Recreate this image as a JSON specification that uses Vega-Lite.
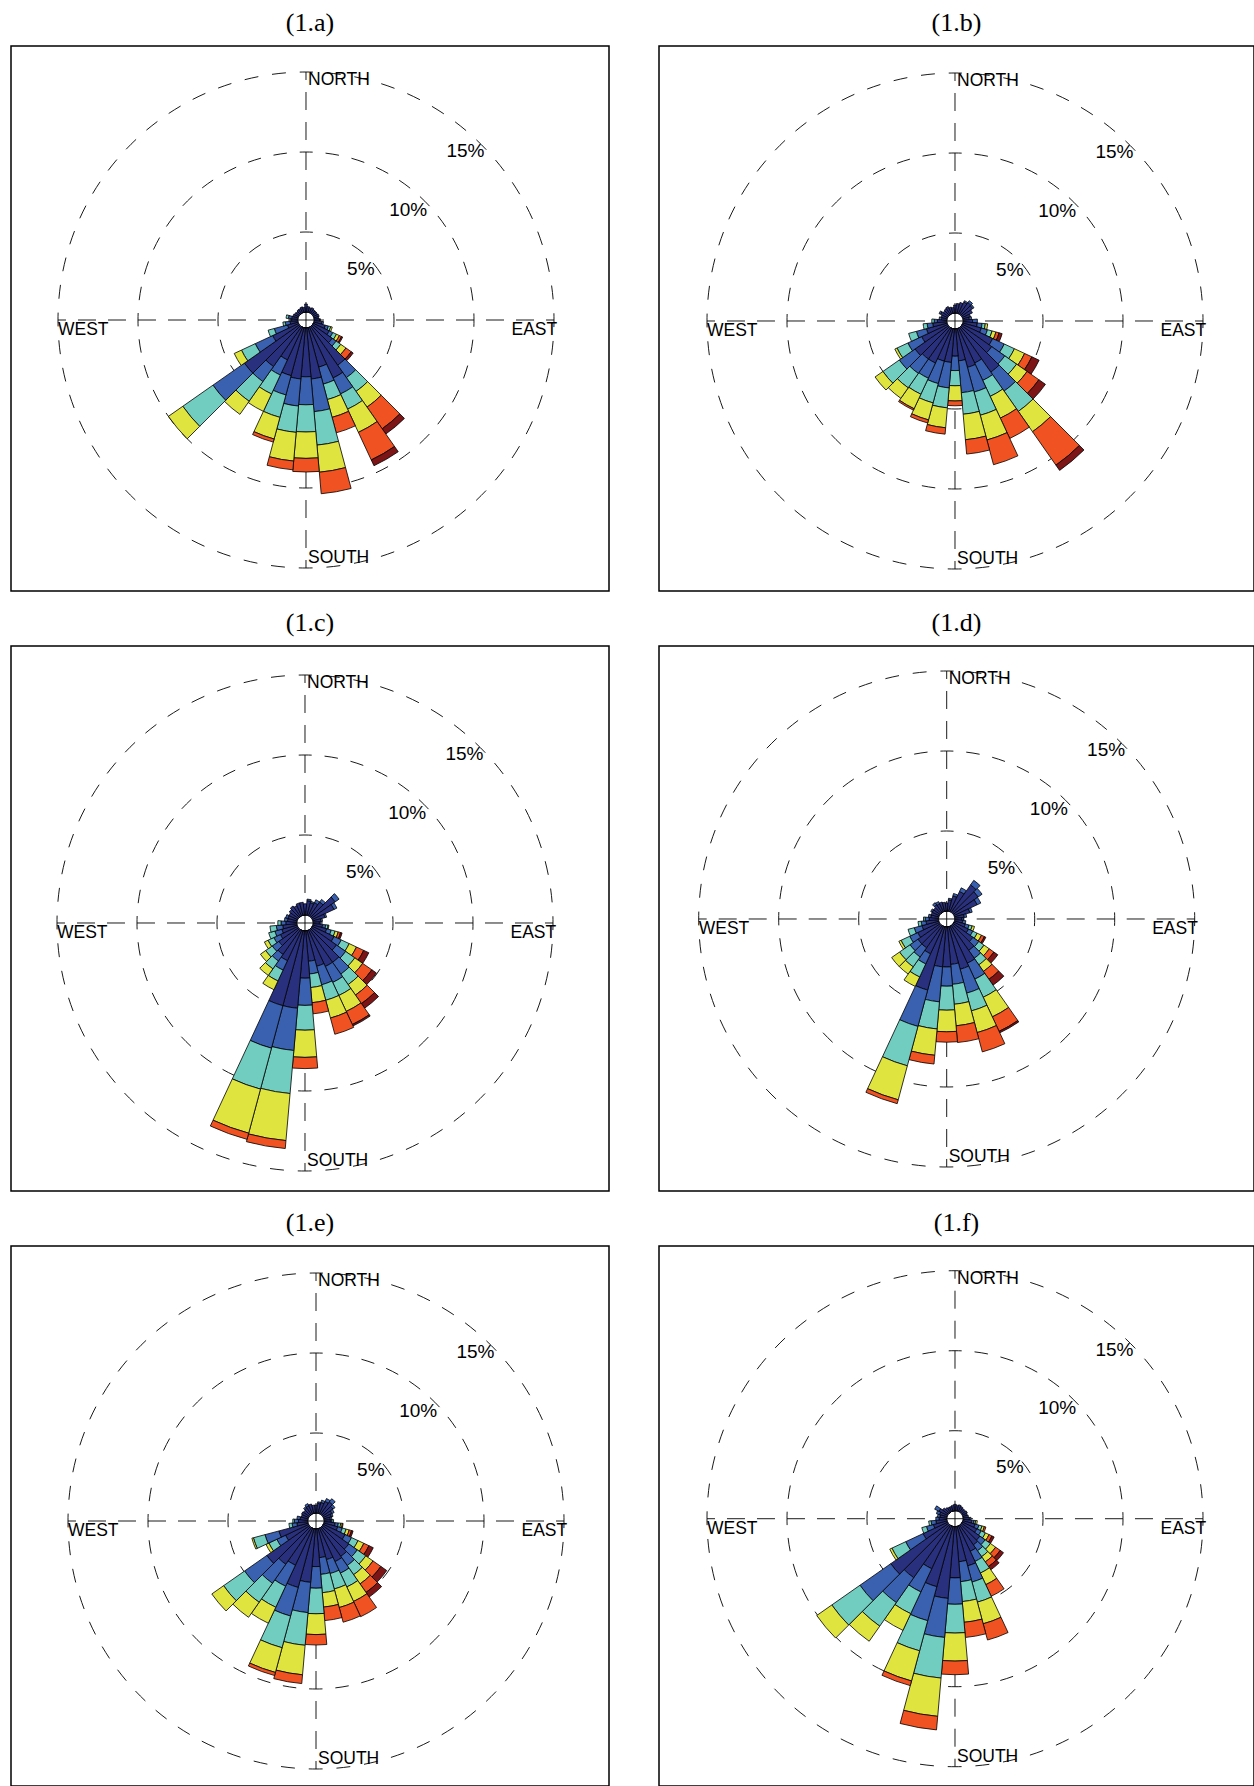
{
"$schema": "https://vega.github.io/schema/vega-lite/v6.json",
"background": "white",
"padding": {"left": 10, "top": 9, "right": 0, "bottom": 0},
"config": {"view": {"stroke": "black", "strokeWidth": 1.5}, "title": {"font": "Liberation Serif", "fontSize": 26, "fontWeight": "normal", "color": "black", "anchor": "middle", "offset": 10}},
"datasets": {
"rings": [{"ring": 5}, {"ring": 10}, {"ring": 15}],
"cross": [{"x1": 0, "y1": 0, "x2": -15, "y2": 0}, {"x1": 0, "y1": 0, "x2": 15, "y2": 0}, {"x1": 0, "y1": 0, "x2": 0, "y2": -15}, {"x1": 0, "y1": 0, "x2": 0, "y2": 15}],
"hole": [{"h": 0}],
"pct": [{"t": "5%", "a": 46.8, "r": 4.2}, {"t": "10%", "a": 42.8, "r": 8.9}, {"t": "15%", "a": 43.4, "r": 14.0}],
"ns": [{"t": "NORTH", "a": 0, "r": 14.5}, {"t": "SOUTH", "a": 180, "r": 14.4}],
"wl": [{"t": "WEST", "a": 270, "r": 15}],
"el": [{"t": "EAST", "a": 90, "r": 15.2}],
"rose": [
{"p":"a","d":0,"c1":0.5},{"p":"a","d":10,"c1":0.35},{"p":"a","d":20,"c1":0.3},{"p":"a","d":30,"c1":0.35},{"p":"a","d":40,"c1":0.3},{"p":"a","d":50,"c1":0.3},{"p":"a","d":60,"c1":0.3},{"p":"a","d":70,"c1":0.35},{"p":"a","d":80,"c1":0.3},
{"p":"a","d":90,"c1":0.35,"c2":0.05},{"p":"a","d":100,"c1":0.5,"c2":0.1},{"p":"a","d":110,"c1":0.75,"c2":0.2,"c3":0.15,"c4":0.1},
{"p":"a","d":120,"c1":1.1,"c2":0.25,"c3":0.25,"c4":0.2,"c5":0.15,"c6":0.08},
{"p":"a","d":130,"c1":1.5,"c2":0.3,"c3":0.35,"c4":0.4,"c5":0.4,"c6":0.15},
{"p":"a","d":140,"c1":2.95,"c2":0.95,"c3":1.05,"c4":1.2,"c5":1.65,"c6":0.4},
{"p":"a","d":150,"c1":3.5,"c2":1.1,"c3":1.05,"c4":1.6,"c5":1.9,"c6":0.4},
{"p":"a","d":160,"c1":2.55,"c2":1.1,"c3":1.0,"c4":1.15,"c5":1.0},
{"p":"a","d":170,"c1":3.2,"c2":2.05,"c3":2.1,"c4":1.7,"c5":1.35},
{"p":"a","d":180,"c1":3.05,"c2":1.75,"c3":1.7,"c4":1.65,"c5":0.85},
{"p":"a","d":190,"c1":3.2,"c2":1.7,"c3":1.65,"c4":1.8,"c5":0.55},
{"p":"a","d":200,"c1":3.1,"c2":1.25,"c3":1.45,"c4":1.4,"c5":0.2},
{"p":"a","d":210,"c1":2.25,"c2":1.05,"c3":1.3,"c4":1.2},
{"p":"a","d":220,"c1":3.05,"c2":1.15,"c3":1.5,"c4":1.0},
{"p":"a","d":230,"c1":4.2,"c2":2.4,"c3":2.3,"c4":1.1},
{"p":"a","d":240,"c1":1.8,"c2":1.2,"c3":0.95,"c4":0.5},
{"p":"a","d":250,"c1":0.7,"c2":0.85,"c3":0.4},
{"p":"a","d":260,"c1":0.5,"c2":0.3,"c3":0.15},{"p":"a","d":270,"c1":0.4,"c2":0.1},{"p":"a","d":280,"c1":0.4,"c2":0.2,"c3":0.15},
{"p":"a","d":290,"c1":0.35},{"p":"a","d":300,"c1":0.3},{"p":"a","d":310,"c1":0.25},{"p":"a","d":320,"c1":0.3},{"p":"a","d":330,"c1":0.3},{"p":"a","d":340,"c1":0.35},{"p":"a","d":350,"c1":0.3},

{"p":"b","d":0,"c1":0.5},{"p":"b","d":10,"c1":0.6},{"p":"b","d":20,"c1":0.7},{"p":"b","d":30,"c1":0.8,"c2":0.1},{"p":"b","d":40,"c1":0.9,"c2":0.15},{"p":"b","d":50,"c1":0.85,"c2":0.1},{"p":"b","d":60,"c1":0.7},{"p":"b","d":70,"c1":0.5},
{"p":"b","d":80,"c1":0.4,"c2":0.15},{"p":"b","d":90,"c1":0.6,"c2":0.3},{"p":"b","d":100,"c1":0.9,"c2":0.3,"c3":0.2,"c4":0.15},
{"p":"b","d":110,"c1":1.2,"c2":0.4,"c3":0.3,"c4":0.25,"c5":0.2,"c6":0.2},
{"p":"b","d":120,"c1":2.1,"c2":0.8,"c3":0.7,"c4":0.7,"c5":0.5,"c6":0.5},
{"p":"b","d":130,"c1":2.3,"c2":1.0,"c3":0.9,"c4":0.8,"c5":0.9,"c6":0.5},
{"p":"b","d":140,"c1":3.4,"c2":1.45,"c3":1.55,"c4":1.55,"c5":2.55,"c6":0.4},
{"p":"b","d":150,"c1":2.4,"c2":1.2,"c3":1.1,"c4":1.5,"c5":1.4},
{"p":"b","d":160,"c1":2.5,"c2":1.6,"c3":1.5,"c4":1.6,"c5":1.6},
{"p":"b","d":170,"c1":2.0,"c2":2.0,"c3":1.35,"c4":1.6,"c5":0.9},
{"p":"b","d":180,"c1":1.7,"c2":0.9,"c3":0.95,"c4":0.95,"c5":0.3},
{"p":"b","d":190,"c1":2.1,"c2":1.6,"c3":1.25,"c4":1.25,"c5":0.4},
{"p":"b","d":200,"c1":2.1,"c2":1.45,"c3":1.25,"c4":1.1,"c5":0.2},
{"p":"b","d":210,"c1":2.4,"c2":1.05,"c3":1.1,"c4":1.0,"c5":0.1},
{"p":"b","d":220,"c1":2.4,"c2":1.1,"c3":1.1,"c4":0.8},
{"p":"b","d":230,"c1":2.55,"c2":1.2,"c3":1.25,"c4":0.6},
{"p":"b","d":240,"c1":1.8,"c2":0.95,"c3":0.75,"c4":0.15},
{"p":"b","d":250,"c1":1.35,"c2":0.65,"c3":0.5},
{"p":"b","d":260,"c1":0.9,"c2":0.35,"c3":0.25},{"p":"b","d":270,"c1":0.6,"c2":0.2,"c3":0.15},{"p":"b","d":280,"c1":0.35,"c2":0.15},
{"p":"b","d":290,"c1":0.4},{"p":"b","d":300,"c1":0.5,"c2":0.1},{"p":"b","d":310,"c1":0.4},{"p":"b","d":320,"c1":0.45},{"p":"b","d":330,"c1":0.5},{"p":"b","d":340,"c1":0.4},{"p":"b","d":350,"c1":0.35},

{"p":"c","d":0,"c1":0.7},{"p":"c","d":10,"c1":0.9,"c2":0.1},{"p":"c","d":20,"c1":0.8,"c2":0.1},{"p":"c","d":30,"c1":0.9,"c2":0.2},{"p":"c","d":40,"c1":1.1,"c2":0.2},{"p":"c","d":50,"c1":1.8,"c2":0.3},{"p":"c","d":60,"c1":1.5,"c2":0.2},{"p":"c","d":70,"c1":0.8,"c2":0.1},
{"p":"c","d":80,"c1":0.5,"c2":0.1},{"p":"c","d":90,"c1":0.4,"c2":0.1},{"p":"c","d":100,"c1":0.6,"c2":0.2,"c3":0.15,"c4":0.05},
{"p":"c","d":110,"c1":0.9,"c2":0.3,"c3":0.25,"c4":0.2,"c5":0.15,"c6":0.1},
{"p":"c","d":120,"c1":1.5,"c2":0.5,"c3":0.55,"c4":0.5,"c5":0.5,"c6":0.35},
{"p":"c","d":130,"c1":1.9,"c2":0.7,"c3":0.7,"c4":0.6,"c5":0.7,"c6":0.35},
{"p":"c","d":140,"c1":2.5,"c2":0.9,"c3":0.8,"c4":0.8,"c5":0.65,"c6":0.35},
{"p":"c","d":150,"c1":2.5,"c2":1.1,"c3":0.9,"c4":1.1,"c5":0.9,"c6":0.1},
{"p":"c","d":160,"c1":2.3,"c2":1.2,"c3":1.0,"c4":1.15,"c5":1.05},
{"p":"c","d":170,"c1":1.9,"c2":0.8,"c3":0.85,"c4":0.95,"c5":0.7},
{"p":"c","d":180,"c1":2.95,"c2":1.7,"c3":1.55,"c4":1.7,"c5":0.7},
{"p":"c","d":190,"c1":4.85,"c2":2.65,"c3":2.7,"c4":2.95,"c5":0.5},
{"p":"c","d":200,"c1":4.85,"c2":2.75,"c3":2.65,"c4":2.85,"c5":0.4},
{"p":"c","d":210,"c1":2.1,"c2":0.65,"c3":0.75,"c4":0.6},
{"p":"c","d":220,"c1":1.9,"c2":0.5,"c3":0.6,"c4":0.5},
{"p":"c","d":230,"c1":1.5,"c2":0.5,"c3":0.5,"c4":0.4},
{"p":"c","d":240,"c1":1.2,"c2":0.45,"c3":0.4,"c4":0.25},
{"p":"c","d":250,"c1":1.0,"c2":0.45,"c3":0.4},
{"p":"c","d":260,"c1":0.9,"c2":0.4,"c3":0.4},{"p":"c","d":270,"c1":0.7,"c2":0.3,"c3":0.2},{"p":"c","d":280,"c1":0.6,"c2":0.2},
{"p":"c","d":290,"c1":0.6,"c2":0.15},{"p":"c","d":300,"c1":0.6},{"p":"c","d":310,"c1":0.7},{"p":"c","d":320,"c1":0.8},{"p":"c","d":330,"c1":0.7},{"p":"c","d":340,"c1":0.8},{"p":"c","d":350,"c1":0.8},

{"p":"d","d":0,"c1":0.5},{"p":"d","d":10,"c1":0.7,"c2":0.1},{"p":"d","d":20,"c1":1.0,"c2":0.15},{"p":"d","d":30,"c1":1.4,"c2":0.25},{"p":"d","d":40,"c1":2.1,"c2":0.35},{"p":"d","d":50,"c1":1.9,"c2":0.3},{"p":"d","d":60,"c1":1.6,"c2":0.25},{"p":"d","d":70,"c1":1.0,"c2":0.15},
{"p":"d","d":80,"c1":0.6,"c2":0.15},{"p":"d","d":90,"c1":0.45,"c2":0.1},{"p":"d","d":100,"c1":0.5,"c2":0.2},
{"p":"d","d":110,"c1":0.7,"c2":0.25,"c3":0.2,"c4":0.15},
{"p":"d","d":120,"c1":1.0,"c2":0.3,"c3":0.3,"c4":0.3,"c5":0.2,"c6":0.1},
{"p":"d","d":130,"c1":1.5,"c2":0.45,"c3":0.4,"c4":0.4,"c5":0.35,"c6":0.3},
{"p":"d","d":140,"c1":1.9,"c2":0.6,"c3":0.5,"c4":0.5,"c5":0.6,"c6":0.45},
{"p":"d","d":150,"c1":2.55,"c2":1.1,"c3":1.25,"c4":1.35,"c5":1.0,"c6":0.1},
{"p":"d","d":160,"c1":2.75,"c2":1.55,"c3":1.15,"c4":1.4,"c5":1.25},
{"p":"d","d":170,"c1":2.35,"c2":1.25,"c3":1.25,"c4":1.35,"c5":1.05},
{"p":"d","d":180,"c1":2.5,"c2":1.2,"c3":1.5,"c4":1.35,"c5":0.65},
{"p":"d","d":190,"c1":2.5,"c2":2.2,"c3":1.7,"c4":1.65,"c5":0.55},
{"p":"d","d":200,"c1":4.1,"c2":2.35,"c3":2.55,"c4":2.2,"c5":0.25},
{"p":"d","d":210,"c1":1.9,"c2":0.7,"c3":0.9,"c4":0.65},
{"p":"d","d":220,"c1":1.7,"c2":0.7,"c3":0.75,"c4":0.55},
{"p":"d","d":230,"c1":1.7,"c2":0.6,"c3":0.8,"c4":0.6},
{"p":"d","d":240,"c1":1.5,"c2":0.55,"c3":0.6,"c4":0.15},
{"p":"d","d":250,"c1":1.1,"c2":0.5,"c3":0.4},
{"p":"d","d":260,"c1":0.8,"c2":0.3,"c3":0.2},{"p":"d","d":270,"c1":0.6,"c2":0.25,"c3":0.1},{"p":"d","d":280,"c1":0.5,"c2":0.15},
{"p":"d","d":290,"c1":0.5},{"p":"d","d":300,"c1":0.5,"c2":0.1},{"p":"d","d":310,"c1":0.5},{"p":"d","d":320,"c1":0.6,"c2":0.15},{"p":"d","d":330,"c1":0.55,"c2":0.15},{"p":"d","d":340,"c1":0.6},{"p":"d","d":350,"c1":0.55},

{"p":"e","d":0,"c1":0.5},{"p":"e","d":10,"c1":0.6,"c2":0.1},{"p":"e","d":20,"c1":0.7,"c2":0.15},{"p":"e","d":30,"c1":0.85,"c2":0.2},{"p":"e","d":40,"c1":0.95,"c2":0.25},{"p":"e","d":50,"c1":0.8,"c2":0.15},{"p":"e","d":60,"c1":0.6,"c2":0.15},{"p":"e","d":70,"c1":0.5,"c2":0.1},
{"p":"e","d":80,"c1":0.4,"c2":0.1},{"p":"e","d":90,"c1":0.4,"c2":0.1,"c3":0.1},{"p":"e","d":100,"c1":0.7,"c2":0.2,"c3":0.15,"c4":0.1,"c5":0.05},
{"p":"e","d":110,"c1":0.9,"c2":0.3,"c3":0.25,"c4":0.2,"c5":0.15,"c6":0.1},
{"p":"e","d":120,"c1":1.5,"c2":0.45,"c3":0.45,"c4":0.4,"c5":0.35,"c6":0.3},
{"p":"e","d":130,"c1":2.0,"c2":0.65,"c3":0.65,"c4":0.55,"c5":0.6,"c6":0.45},
{"p":"e","d":140,"c1":2.2,"c2":0.7,"c3":0.7,"c4":0.7,"c5":0.65,"c6":0.35},
{"p":"e","d":150,"c1":2.3,"c2":0.8,"c3":0.95,"c4":1.0,"c5":1.05},
{"p":"e","d":160,"c1":2.0,"c2":0.9,"c3":1.0,"c4":1.2,"c5":0.95},
{"p":"e","d":170,"c1":1.8,"c2":1.05,"c3":1.15,"c4":0.9,"c5":0.85},
{"p":"e","d":180,"c1":2.35,"c2":1.35,"c3":1.6,"c4":1.3,"c5":0.65},
{"p":"e","d":190,"c1":3.35,"c2":1.9,"c3":2.05,"c4":1.85,"c5":0.55},
{"p":"e","d":200,"c1":3.8,"c2":1.85,"c3":2.05,"c4":1.6,"c5":0.2},
{"p":"e","d":210,"c1":2.55,"c2":1.45,"c3":1.45,"c4":1.1},
{"p":"e","d":220,"c1":2.8,"c2":1.45,"c3":1.45,"c4":1.15},
{"p":"e","d":230,"c1":3.25,"c2":1.7,"c3":1.6,"c4":0.9},
{"p":"e","d":240,"c1":1.6,"c2":0.6,"c3":0.55,"c4":0.2},
{"p":"e","d":250,"c1":1.9,"c2":0.9,"c3":0.75,"c4":0.1},
{"p":"e","d":260,"c1":0.7,"c2":0.3,"c3":0.2},{"p":"e","d":270,"c1":0.6,"c2":0.25,"c3":0.1},{"p":"e","d":280,"c1":0.5,"c2":0.2},
{"p":"e","d":290,"c1":0.45},{"p":"e","d":300,"c1":0.5},{"p":"e","d":310,"c1":0.45},{"p":"e","d":320,"c1":0.5,"c2":0.1},{"p":"e","d":330,"c1":0.55,"c2":0.15},{"p":"e","d":340,"c1":0.6},{"p":"e","d":350,"c1":0.5},

{"p":"f","d":0,"c1":0.4},{"p":"f","d":10,"c1":0.35},{"p":"f","d":20,"c1":0.4},{"p":"f","d":30,"c1":0.35},{"p":"f","d":40,"c1":0.3},{"p":"f","d":50,"c1":0.3},{"p":"f","d":60,"c1":0.35},{"p":"f","d":70,"c1":0.3},
{"p":"f","d":80,"c1":0.35},{"p":"f","d":90,"c1":0.4,"c2":0.1},{"p":"f","d":100,"c1":0.55,"c2":0.15,"c3":0.1,"c4":0.1},
{"p":"f","d":110,"c1":0.8,"c2":0.25,"c3":0.2,"c4":0.15,"c5":0.1},
{"p":"f","d":120,"c1":1.0,"c2":0.3,"c3":0.3,"c4":0.25,"c5":0.2,"c6":0.15},
{"p":"f","d":130,"c1":1.4,"c2":0.4,"c3":0.4,"c4":0.4,"c5":0.35,"c6":0.25},
{"p":"f","d":140,"c1":1.5,"c2":0.45,"c3":0.45,"c4":0.4,"c5":0.35,"c6":0.25},
{"p":"f","d":150,"c1":1.75,"c2":0.7,"c3":0.8,"c4":0.8,"c5":0.8},
{"p":"f","d":160,"c1":2.55,"c2":1.05,"c3":1.3,"c4":1.4,"c5":1.05},
{"p":"f","d":170,"c1":2.2,"c2":1.25,"c3":1.25,"c4":1.3,"c5":0.95},
{"p":"f","d":180,"c1":3.2,"c2":1.65,"c3":1.8,"c4":1.75,"c5":0.85},
{"p":"f","d":190,"c1":4.5,"c2":2.45,"c3":2.55,"c4":2.4,"c5":0.85},
{"p":"f","d":200,"c1":3.9,"c2":2.2,"c3":1.95,"c4":1.95,"c5":0.3},
{"p":"f","d":210,"c1":2.95,"c2":1.6,"c3":1.5,"c4":1.15},
{"p":"f","d":220,"c1":4.0,"c2":1.9,"c3":1.8,"c4":1.15},
{"p":"f","d":230,"c1":4.4,"c2":2.35,"c3":2.15,"c4":1.15},
{"p":"f","d":240,"c1":1.7,"c2":1.2,"c3":0.95,"c4":0.15},
{"p":"f","d":250,"c1":0.9,"c2":0.45,"c3":0.3},
{"p":"f","d":260,"c1":0.7,"c2":0.3,"c3":0.15},{"p":"f","d":270,"c1":0.5,"c2":0.2},{"p":"f","d":280,"c1":0.45,"c2":0.15},
{"p":"f","d":290,"c1":0.5,"c2":0.2},{"p":"f","d":300,"c1":0.6,"c2":0.3},{"p":"f","d":310,"c1":0.45},{"p":"f","d":320,"c1":0.35},{"p":"f","d":330,"c1":0.3},{"p":"f","d":340,"c1":0.3},{"p":"f","d":350,"c1":0.35}
]
},
"vconcat": [
{"hconcat": [
{"title": "(1.a)", "width": 598, "height": 545, "resolve": {"scale": {"theta": "independent"}},
 "encoding": {"x": {"datum": 0, "type": "quantitative", "scale": {"domain": [-17.843, 18.327], "nice": false, "zero": false}, "axis": null}, "y": {"datum": 0, "type": "quantitative", "scale": {"domain": [-16.391, 16.573], "nice": false, "zero": false}, "axis": null}},
 "layer": [
  {"data": {"name": "rings"}, "transform": [{"filter": "datum.ring == 5"}], "mark": {"type": "arc", "theta": 0, "theta2": 6.2832, "fill": "transparent", "stroke": "black", "strokeWidth": 0.9, "strokeDash": [14, 13.646], "strokeDashOffset": 7},
   "encoding": {"radius": {"field": "ring", "type": "quantitative", "stack": null, "scale": {"domain": [0, 15], "range": [8, 248], "zero": false, "nice": false}}}},
  {"data": {"name": "rings"}, "transform": [{"filter": "datum.ring == 10"}], "mark": {"type": "arc", "theta": 0, "theta2": 6.2832, "fill": "transparent", "stroke": "black", "strokeWidth": 0.9, "strokeDash": [13.5, 12.889], "strokeDashOffset": 6.75},
   "encoding": {"radius": {"field": "ring", "type": "quantitative", "stack": null, "scale": {"domain": [0, 15], "range": [8, 248], "zero": false, "nice": false}}}},
  {"data": {"name": "rings"}, "transform": [{"filter": "datum.ring == 15"}], "mark": {"type": "arc", "theta": 0, "theta2": 6.2832, "fill": "transparent", "stroke": "black", "strokeWidth": 0.9, "strokeDash": [14, 13.826], "strokeDashOffset": 7},
   "encoding": {"radius": {"field": "ring", "type": "quantitative", "stack": null, "scale": {"domain": [0, 15], "range": [8, 248], "zero": false, "nice": false}}}},
  {"data": {"name": "cross"}, "mark": {"type": "rule", "color": "black", "strokeWidth": 0.9, "strokeDash": [18, 12]},
   "encoding": {"x": {"field": "x1", "type": "quantitative", "scale": {"domain": [-17.843, 18.327], "nice": false, "zero": false}, "axis": null}, "x2": {"field": "x2"},
    "y": {"field": "y1", "type": "quantitative", "scale": {"domain": [-16.391, 16.573], "nice": false, "zero": false}, "axis": null}, "y2": {"field": "y2"}}},
  {"data": {"name": "hole"}, "mark": {"type": "arc", "theta": 0, "theta2": 6.2832, "fill": "white", "strokeWidth": 0},
   "encoding": {"radius": {"field": "h", "type": "quantitative", "stack": null, "scale": {"domain": [0, 15], "range": [8, 248], "zero": false, "nice": false}}}},
  {"data": {"name": "rose"}, "transform": [{"filter": "datum.p == 'a'"}, {"fold": ["c1", "c2", "c3", "c4", "c5", "c6"], "as": ["cls", "v"]}, {"filter": "datum.v > 0"}, {"stack": "v", "groupby": ["d"], "sort": [{"field": "cls", "order": "ascending"}], "as": ["r0", "r1"]}],
   "mark": {"type": "arc", "stroke": "black", "strokeWidth": 0.8},
   "encoding": {"theta": {"field": "d", "type": "ordinal", "scale": {"type": "band", "domain": [0,10,20,30,40,50,60,70,80,90,100,110,120,130,140,150,160,170,180,190,200,210,220,230,240,250,260,270,280,290,300,310,320,330,340,350], "range": [-0.08727, 6.19592], "paddingInner": 0, "paddingOuter": 0}},
    "radius": {"field": "r1", "type": "quantitative", "stack": null, "scale": {"domain": [0, 15], "range": [8, 248], "zero": false, "nice": false}}, "radius2": {"field": "r0"},
    "color": {"field": "cls", "type": "nominal", "scale": {"domain": ["c1", "c2", "c3", "c4", "c5", "c6"], "range": ["#29307e", "#3a60b0", "#71cdc0", "#e0e43e", "#f05222", "#7d1416"]}, "legend": null}}},
  {"data": {"name": "pct"}, "mark": {"type": "text", "font": "Liberation Sans", "fontSize": 19, "align": "center", "baseline": "middle", "color": "black"},
   "encoding": {"theta": {"field": "a", "type": "quantitative", "stack": null, "scale": {"domain": [0, 360], "range": [0, 6.28319]}}, "radius": {"field": "r", "type": "quantitative", "stack": null, "scale": {"domain": [0, 15], "range": [8, 248], "zero": false, "nice": false}}, "text": {"field": "t"}}},
  {"data": {"name": "ns"}, "mark": {"type": "text", "font": "Liberation Sans", "fontSize": 17.5, "align": "left", "baseline": "middle", "dx": 2, "color": "black"},
   "encoding": {"theta": {"field": "a", "type": "quantitative", "stack": null, "scale": {"domain": [0, 360], "range": [0, 6.28319]}}, "radius": {"field": "r", "type": "quantitative", "stack": null, "scale": {"domain": [0, 15], "range": [8, 248], "zero": false, "nice": false}}, "text": {"field": "t"}}},
  {"data": {"name": "wl"}, "mark": {"type": "text", "font": "Liberation Sans", "fontSize": 17.5, "align": "left", "baseline": "middle", "dy": 10, "color": "black"},
   "encoding": {"theta": {"field": "a", "type": "quantitative", "stack": null, "scale": {"domain": [0, 360], "range": [0, 6.28319]}}, "radius": {"field": "r", "type": "quantitative", "stack": null, "scale": {"domain": [0, 15], "range": [8, 248], "zero": false, "nice": false}}, "text": {"field": "t"}}},
  {"data": {"name": "el"}, "mark": {"type": "text", "font": "Liberation Sans", "fontSize": 17.5, "align": "right", "baseline": "middle", "dy": 10, "color": "black"},
   "encoding": {"theta": {"field": "a", "type": "quantitative", "stack": null, "scale": {"domain": [0, 360], "range": [0, 6.28319]}}, "radius": {"field": "r", "type": "quantitative", "stack": null, "scale": {"domain": [0, 15], "range": [8, 248], "zero": false, "nice": false}}, "text": {"field": "t"}}}
 ]},
{"title": "(1.b)", "width": 595, "height": 545, "resolve": {"scale": {"theta": "independent"}},
 "encoding": {"x": {"datum": 0, "type": "quantitative", "scale": {"domain": [-17.903, 18.085], "nice": false, "zero": false}, "axis": null}, "y": {"datum": 0, "type": "quantitative", "scale": {"domain": [-16.331, 16.633], "nice": false, "zero": false}, "axis": null}},
 "layer": [
  {"data": {"name": "rings"}, "transform": [{"filter": "datum.ring == 5"}], "mark": {"type": "arc", "theta": 0, "theta2": 6.2832, "fill": "transparent", "stroke": "black", "strokeWidth": 0.9, "strokeDash": [14, 13.646], "strokeDashOffset": 7},
   "encoding": {"radius": {"field": "ring", "type": "quantitative", "stack": null, "scale": {"domain": [0, 15], "range": [8, 248], "zero": false, "nice": false}}}},
  {"data": {"name": "rings"}, "transform": [{"filter": "datum.ring == 10"}], "mark": {"type": "arc", "theta": 0, "theta2": 6.2832, "fill": "transparent", "stroke": "black", "strokeWidth": 0.9, "strokeDash": [13.5, 12.889], "strokeDashOffset": 6.75},
   "encoding": {"radius": {"field": "ring", "type": "quantitative", "stack": null, "scale": {"domain": [0, 15], "range": [8, 248], "zero": false, "nice": false}}}},
  {"data": {"name": "rings"}, "transform": [{"filter": "datum.ring == 15"}], "mark": {"type": "arc", "theta": 0, "theta2": 6.2832, "fill": "transparent", "stroke": "black", "strokeWidth": 0.9, "strokeDash": [14, 13.826], "strokeDashOffset": 7},
   "encoding": {"radius": {"field": "ring", "type": "quantitative", "stack": null, "scale": {"domain": [0, 15], "range": [8, 248], "zero": false, "nice": false}}}},
  {"data": {"name": "cross"}, "mark": {"type": "rule", "color": "black", "strokeWidth": 0.9, "strokeDash": [18, 12]},
   "encoding": {"x": {"field": "x1", "type": "quantitative", "scale": {"domain": [-17.903, 18.085], "nice": false, "zero": false}, "axis": null}, "x2": {"field": "x2"},
    "y": {"field": "y1", "type": "quantitative", "scale": {"domain": [-16.331, 16.633], "nice": false, "zero": false}, "axis": null}, "y2": {"field": "y2"}}},
  {"data": {"name": "hole"}, "mark": {"type": "arc", "theta": 0, "theta2": 6.2832, "fill": "white", "strokeWidth": 0},
   "encoding": {"radius": {"field": "h", "type": "quantitative", "stack": null, "scale": {"domain": [0, 15], "range": [8, 248], "zero": false, "nice": false}}}},
  {"data": {"name": "rose"}, "transform": [{"filter": "datum.p == 'b'"}, {"fold": ["c1", "c2", "c3", "c4", "c5", "c6"], "as": ["cls", "v"]}, {"filter": "datum.v > 0"}, {"stack": "v", "groupby": ["d"], "sort": [{"field": "cls", "order": "ascending"}], "as": ["r0", "r1"]}],
   "mark": {"type": "arc", "stroke": "black", "strokeWidth": 0.8},
   "encoding": {"theta": {"field": "d", "type": "ordinal", "scale": {"type": "band", "domain": [0,10,20,30,40,50,60,70,80,90,100,110,120,130,140,150,160,170,180,190,200,210,220,230,240,250,260,270,280,290,300,310,320,330,340,350], "range": [-0.08727, 6.19592], "paddingInner": 0, "paddingOuter": 0}},
    "radius": {"field": "r1", "type": "quantitative", "stack": null, "scale": {"domain": [0, 15], "range": [8, 248], "zero": false, "nice": false}}, "radius2": {"field": "r0"},
    "color": {"field": "cls", "type": "nominal", "scale": {"domain": ["c1", "c2", "c3", "c4", "c5", "c6"], "range": ["#29307e", "#3a60b0", "#71cdc0", "#e0e43e", "#f05222", "#7d1416"]}, "legend": null}}},
  {"data": {"name": "pct"}, "mark": {"type": "text", "font": "Liberation Sans", "fontSize": 19, "align": "center", "baseline": "middle", "color": "black"},
   "encoding": {"theta": {"field": "a", "type": "quantitative", "stack": null, "scale": {"domain": [0, 360], "range": [0, 6.28319]}}, "radius": {"field": "r", "type": "quantitative", "stack": null, "scale": {"domain": [0, 15], "range": [8, 248], "zero": false, "nice": false}}, "text": {"field": "t"}}},
  {"data": {"name": "ns"}, "mark": {"type": "text", "font": "Liberation Sans", "fontSize": 17.5, "align": "left", "baseline": "middle", "dx": 2, "color": "black"},
   "encoding": {"theta": {"field": "a", "type": "quantitative", "stack": null, "scale": {"domain": [0, 360], "range": [0, 6.28319]}}, "radius": {"field": "r", "type": "quantitative", "stack": null, "scale": {"domain": [0, 15], "range": [8, 248], "zero": false, "nice": false}}, "text": {"field": "t"}}},
  {"data": {"name": "wl"}, "mark": {"type": "text", "font": "Liberation Sans", "fontSize": 17.5, "align": "left", "baseline": "middle", "dy": 10, "color": "black"},
   "encoding": {"theta": {"field": "a", "type": "quantitative", "stack": null, "scale": {"domain": [0, 360], "range": [0, 6.28319]}}, "radius": {"field": "r", "type": "quantitative", "stack": null, "scale": {"domain": [0, 15], "range": [8, 248], "zero": false, "nice": false}}, "text": {"field": "t"}}},
  {"data": {"name": "el"}, "mark": {"type": "text", "font": "Liberation Sans", "fontSize": 17.5, "align": "right", "baseline": "middle", "dy": 10, "color": "black"},
   "encoding": {"theta": {"field": "a", "type": "quantitative", "stack": null, "scale": {"domain": [0, 360], "range": [0, 6.28319]}}, "radius": {"field": "r", "type": "quantitative", "stack": null, "scale": {"domain": [0, 15], "range": [8, 248], "zero": false, "nice": false}}, "text": {"field": "t"}}}
 ]}
], "spacing": 48},
{"hconcat": [
{"title": "(1.c)", "width": 598, "height": 545, "resolve": {"scale": {"theta": "independent"}},
 "encoding": {"x": {"datum": 0, "type": "quantitative", "scale": {"domain": [-17.782, 18.387], "nice": false, "zero": false}, "axis": null}, "y": {"datum": 0, "type": "quantitative", "scale": {"domain": [-16.210, 16.754], "nice": false, "zero": false}, "axis": null}},
 "layer": [
  {"data": {"name": "rings"}, "transform": [{"filter": "datum.ring == 5"}], "mark": {"type": "arc", "theta": 0, "theta2": 6.2832, "fill": "transparent", "stroke": "black", "strokeWidth": 0.9, "strokeDash": [14, 13.646], "strokeDashOffset": 7},
   "encoding": {"radius": {"field": "ring", "type": "quantitative", "stack": null, "scale": {"domain": [0, 15], "range": [8, 248], "zero": false, "nice": false}}}},
  {"data": {"name": "rings"}, "transform": [{"filter": "datum.ring == 10"}], "mark": {"type": "arc", "theta": 0, "theta2": 6.2832, "fill": "transparent", "stroke": "black", "strokeWidth": 0.9, "strokeDash": [13.5, 12.889], "strokeDashOffset": 6.75},
   "encoding": {"radius": {"field": "ring", "type": "quantitative", "stack": null, "scale": {"domain": [0, 15], "range": [8, 248], "zero": false, "nice": false}}}},
  {"data": {"name": "rings"}, "transform": [{"filter": "datum.ring == 15"}], "mark": {"type": "arc", "theta": 0, "theta2": 6.2832, "fill": "transparent", "stroke": "black", "strokeWidth": 0.9, "strokeDash": [14, 13.826], "strokeDashOffset": 7},
   "encoding": {"radius": {"field": "ring", "type": "quantitative", "stack": null, "scale": {"domain": [0, 15], "range": [8, 248], "zero": false, "nice": false}}}},
  {"data": {"name": "cross"}, "mark": {"type": "rule", "color": "black", "strokeWidth": 0.9, "strokeDash": [18, 12]},
   "encoding": {"x": {"field": "x1", "type": "quantitative", "scale": {"domain": [-17.782, 18.387], "nice": false, "zero": false}, "axis": null}, "x2": {"field": "x2"},
    "y": {"field": "y1", "type": "quantitative", "scale": {"domain": [-16.210, 16.754], "nice": false, "zero": false}, "axis": null}, "y2": {"field": "y2"}}},
  {"data": {"name": "hole"}, "mark": {"type": "arc", "theta": 0, "theta2": 6.2832, "fill": "white", "strokeWidth": 0},
   "encoding": {"radius": {"field": "h", "type": "quantitative", "stack": null, "scale": {"domain": [0, 15], "range": [8, 248], "zero": false, "nice": false}}}},
  {"data": {"name": "rose"}, "transform": [{"filter": "datum.p == 'c'"}, {"fold": ["c1", "c2", "c3", "c4", "c5", "c6"], "as": ["cls", "v"]}, {"filter": "datum.v > 0"}, {"stack": "v", "groupby": ["d"], "sort": [{"field": "cls", "order": "ascending"}], "as": ["r0", "r1"]}],
   "mark": {"type": "arc", "stroke": "black", "strokeWidth": 0.8},
   "encoding": {"theta": {"field": "d", "type": "ordinal", "scale": {"type": "band", "domain": [0,10,20,30,40,50,60,70,80,90,100,110,120,130,140,150,160,170,180,190,200,210,220,230,240,250,260,270,280,290,300,310,320,330,340,350], "range": [-0.08727, 6.19592], "paddingInner": 0, "paddingOuter": 0}},
    "radius": {"field": "r1", "type": "quantitative", "stack": null, "scale": {"domain": [0, 15], "range": [8, 248], "zero": false, "nice": false}}, "radius2": {"field": "r0"},
    "color": {"field": "cls", "type": "nominal", "scale": {"domain": ["c1", "c2", "c3", "c4", "c5", "c6"], "range": ["#29307e", "#3a60b0", "#71cdc0", "#e0e43e", "#f05222", "#7d1416"]}, "legend": null}}},
  {"data": {"name": "pct"}, "mark": {"type": "text", "font": "Liberation Sans", "fontSize": 19, "align": "center", "baseline": "middle", "color": "black"},
   "encoding": {"theta": {"field": "a", "type": "quantitative", "stack": null, "scale": {"domain": [0, 360], "range": [0, 6.28319]}}, "radius": {"field": "r", "type": "quantitative", "stack": null, "scale": {"domain": [0, 15], "range": [8, 248], "zero": false, "nice": false}}, "text": {"field": "t"}}},
  {"data": {"name": "ns"}, "mark": {"type": "text", "font": "Liberation Sans", "fontSize": 17.5, "align": "left", "baseline": "middle", "dx": 2, "color": "black"},
   "encoding": {"theta": {"field": "a", "type": "quantitative", "stack": null, "scale": {"domain": [0, 360], "range": [0, 6.28319]}}, "radius": {"field": "r", "type": "quantitative", "stack": null, "scale": {"domain": [0, 15], "range": [8, 248], "zero": false, "nice": false}}, "text": {"field": "t"}}},
  {"data": {"name": "wl"}, "mark": {"type": "text", "font": "Liberation Sans", "fontSize": 17.5, "align": "left", "baseline": "middle", "dy": 10, "color": "black"},
   "encoding": {"theta": {"field": "a", "type": "quantitative", "stack": null, "scale": {"domain": [0, 360], "range": [0, 6.28319]}}, "radius": {"field": "r", "type": "quantitative", "stack": null, "scale": {"domain": [0, 15], "range": [8, 248], "zero": false, "nice": false}}, "text": {"field": "t"}}},
  {"data": {"name": "el"}, "mark": {"type": "text", "font": "Liberation Sans", "fontSize": 17.5, "align": "right", "baseline": "middle", "dy": 10, "color": "black"},
   "encoding": {"theta": {"field": "a", "type": "quantitative", "stack": null, "scale": {"domain": [0, 360], "range": [0, 6.28319]}}, "radius": {"field": "r", "type": "quantitative", "stack": null, "scale": {"domain": [0, 15], "range": [8, 248], "zero": false, "nice": false}}, "text": {"field": "t"}}}
 ]},
{"title": "(1.d)", "width": 595, "height": 545, "resolve": {"scale": {"theta": "independent"}},
 "encoding": {"x": {"datum": 0, "type": "quantitative", "scale": {"domain": [-17.401, 18.587], "nice": false, "zero": false}, "axis": null}, "y": {"datum": 0, "type": "quantitative", "scale": {"domain": [-16.452, 16.512], "nice": false, "zero": false}, "axis": null}},
 "layer": [
  {"data": {"name": "rings"}, "transform": [{"filter": "datum.ring == 5"}], "mark": {"type": "arc", "theta": 0, "theta2": 6.2832, "fill": "transparent", "stroke": "black", "strokeWidth": 0.9, "strokeDash": [14, 13.646], "strokeDashOffset": 7},
   "encoding": {"radius": {"field": "ring", "type": "quantitative", "stack": null, "scale": {"domain": [0, 15], "range": [8, 248], "zero": false, "nice": false}}}},
  {"data": {"name": "rings"}, "transform": [{"filter": "datum.ring == 10"}], "mark": {"type": "arc", "theta": 0, "theta2": 6.2832, "fill": "transparent", "stroke": "black", "strokeWidth": 0.9, "strokeDash": [13.5, 12.889], "strokeDashOffset": 6.75},
   "encoding": {"radius": {"field": "ring", "type": "quantitative", "stack": null, "scale": {"domain": [0, 15], "range": [8, 248], "zero": false, "nice": false}}}},
  {"data": {"name": "rings"}, "transform": [{"filter": "datum.ring == 15"}], "mark": {"type": "arc", "theta": 0, "theta2": 6.2832, "fill": "transparent", "stroke": "black", "strokeWidth": 0.9, "strokeDash": [14, 13.826], "strokeDashOffset": 7},
   "encoding": {"radius": {"field": "ring", "type": "quantitative", "stack": null, "scale": {"domain": [0, 15], "range": [8, 248], "zero": false, "nice": false}}}},
  {"data": {"name": "cross"}, "mark": {"type": "rule", "color": "black", "strokeWidth": 0.9, "strokeDash": [18, 12]},
   "encoding": {"x": {"field": "x1", "type": "quantitative", "scale": {"domain": [-17.401, 18.587], "nice": false, "zero": false}, "axis": null}, "x2": {"field": "x2"},
    "y": {"field": "y1", "type": "quantitative", "scale": {"domain": [-16.452, 16.512], "nice": false, "zero": false}, "axis": null}, "y2": {"field": "y2"}}},
  {"data": {"name": "hole"}, "mark": {"type": "arc", "theta": 0, "theta2": 6.2832, "fill": "white", "strokeWidth": 0},
   "encoding": {"radius": {"field": "h", "type": "quantitative", "stack": null, "scale": {"domain": [0, 15], "range": [8, 248], "zero": false, "nice": false}}}},
  {"data": {"name": "rose"}, "transform": [{"filter": "datum.p == 'd'"}, {"fold": ["c1", "c2", "c3", "c4", "c5", "c6"], "as": ["cls", "v"]}, {"filter": "datum.v > 0"}, {"stack": "v", "groupby": ["d"], "sort": [{"field": "cls", "order": "ascending"}], "as": ["r0", "r1"]}],
   "mark": {"type": "arc", "stroke": "black", "strokeWidth": 0.8},
   "encoding": {"theta": {"field": "d", "type": "ordinal", "scale": {"type": "band", "domain": [0,10,20,30,40,50,60,70,80,90,100,110,120,130,140,150,160,170,180,190,200,210,220,230,240,250,260,270,280,290,300,310,320,330,340,350], "range": [-0.08727, 6.19592], "paddingInner": 0, "paddingOuter": 0}},
    "radius": {"field": "r1", "type": "quantitative", "stack": null, "scale": {"domain": [0, 15], "range": [8, 248], "zero": false, "nice": false}}, "radius2": {"field": "r0"},
    "color": {"field": "cls", "type": "nominal", "scale": {"domain": ["c1", "c2", "c3", "c4", "c5", "c6"], "range": ["#29307e", "#3a60b0", "#71cdc0", "#e0e43e", "#f05222", "#7d1416"]}, "legend": null}}},
  {"data": {"name": "pct"}, "mark": {"type": "text", "font": "Liberation Sans", "fontSize": 19, "align": "center", "baseline": "middle", "color": "black"},
   "encoding": {"theta": {"field": "a", "type": "quantitative", "stack": null, "scale": {"domain": [0, 360], "range": [0, 6.28319]}}, "radius": {"field": "r", "type": "quantitative", "stack": null, "scale": {"domain": [0, 15], "range": [8, 248], "zero": false, "nice": false}}, "text": {"field": "t"}}},
  {"data": {"name": "ns"}, "mark": {"type": "text", "font": "Liberation Sans", "fontSize": 17.5, "align": "left", "baseline": "middle", "dx": 2, "color": "black"},
   "encoding": {"theta": {"field": "a", "type": "quantitative", "stack": null, "scale": {"domain": [0, 360], "range": [0, 6.28319]}}, "radius": {"field": "r", "type": "quantitative", "stack": null, "scale": {"domain": [0, 15], "range": [8, 248], "zero": false, "nice": false}}, "text": {"field": "t"}}},
  {"data": {"name": "wl"}, "mark": {"type": "text", "font": "Liberation Sans", "fontSize": 17.5, "align": "left", "baseline": "middle", "dy": 10, "color": "black"},
   "encoding": {"theta": {"field": "a", "type": "quantitative", "stack": null, "scale": {"domain": [0, 360], "range": [0, 6.28319]}}, "radius": {"field": "r", "type": "quantitative", "stack": null, "scale": {"domain": [0, 15], "range": [8, 248], "zero": false, "nice": false}}, "text": {"field": "t"}}},
  {"data": {"name": "el"}, "mark": {"type": "text", "font": "Liberation Sans", "fontSize": 17.5, "align": "right", "baseline": "middle", "dy": 10, "color": "black"},
   "encoding": {"theta": {"field": "a", "type": "quantitative", "stack": null, "scale": {"domain": [0, 360], "range": [0, 6.28319]}}, "radius": {"field": "r", "type": "quantitative", "stack": null, "scale": {"domain": [0, 15], "range": [8, 248], "zero": false, "nice": false}}, "text": {"field": "t"}}}
 ]}
], "spacing": 48},
{"hconcat": [
{"title": "(1.e)", "width": 598, "height": 540, "resolve": {"scale": {"theta": "independent"}},
 "encoding": {"x": {"datum": 0, "type": "quantitative", "scale": {"domain": [-18.448, 17.722], "nice": false, "zero": false}, "axis": null}, "y": {"datum": 0, "type": "quantitative", "scale": {"domain": [-16.028, 16.633], "nice": false, "zero": false}, "axis": null}},
 "layer": [
  {"data": {"name": "rings"}, "transform": [{"filter": "datum.ring == 5"}], "mark": {"type": "arc", "theta": 0, "theta2": 6.2832, "fill": "transparent", "stroke": "black", "strokeWidth": 0.9, "strokeDash": [14, 13.646], "strokeDashOffset": 7},
   "encoding": {"radius": {"field": "ring", "type": "quantitative", "stack": null, "scale": {"domain": [0, 15], "range": [8, 248], "zero": false, "nice": false}}}},
  {"data": {"name": "rings"}, "transform": [{"filter": "datum.ring == 10"}], "mark": {"type": "arc", "theta": 0, "theta2": 6.2832, "fill": "transparent", "stroke": "black", "strokeWidth": 0.9, "strokeDash": [13.5, 12.889], "strokeDashOffset": 6.75},
   "encoding": {"radius": {"field": "ring", "type": "quantitative", "stack": null, "scale": {"domain": [0, 15], "range": [8, 248], "zero": false, "nice": false}}}},
  {"data": {"name": "rings"}, "transform": [{"filter": "datum.ring == 15"}], "mark": {"type": "arc", "theta": 0, "theta2": 6.2832, "fill": "transparent", "stroke": "black", "strokeWidth": 0.9, "strokeDash": [14, 13.826], "strokeDashOffset": 7},
   "encoding": {"radius": {"field": "ring", "type": "quantitative", "stack": null, "scale": {"domain": [0, 15], "range": [8, 248], "zero": false, "nice": false}}}},
  {"data": {"name": "cross"}, "mark": {"type": "rule", "color": "black", "strokeWidth": 0.9, "strokeDash": [18, 12]},
   "encoding": {"x": {"field": "x1", "type": "quantitative", "scale": {"domain": [-18.448, 17.722], "nice": false, "zero": false}, "axis": null}, "x2": {"field": "x2"},
    "y": {"field": "y1", "type": "quantitative", "scale": {"domain": [-16.028, 16.633], "nice": false, "zero": false}, "axis": null}, "y2": {"field": "y2"}}},
  {"data": {"name": "hole"}, "mark": {"type": "arc", "theta": 0, "theta2": 6.2832, "fill": "white", "strokeWidth": 0},
   "encoding": {"radius": {"field": "h", "type": "quantitative", "stack": null, "scale": {"domain": [0, 15], "range": [8, 248], "zero": false, "nice": false}}}},
  {"data": {"name": "rose"}, "transform": [{"filter": "datum.p == 'e'"}, {"fold": ["c1", "c2", "c3", "c4", "c5", "c6"], "as": ["cls", "v"]}, {"filter": "datum.v > 0"}, {"stack": "v", "groupby": ["d"], "sort": [{"field": "cls", "order": "ascending"}], "as": ["r0", "r1"]}],
   "mark": {"type": "arc", "stroke": "black", "strokeWidth": 0.8},
   "encoding": {"theta": {"field": "d", "type": "ordinal", "scale": {"type": "band", "domain": [0,10,20,30,40,50,60,70,80,90,100,110,120,130,140,150,160,170,180,190,200,210,220,230,240,250,260,270,280,290,300,310,320,330,340,350], "range": [-0.08727, 6.19592], "paddingInner": 0, "paddingOuter": 0}},
    "radius": {"field": "r1", "type": "quantitative", "stack": null, "scale": {"domain": [0, 15], "range": [8, 248], "zero": false, "nice": false}}, "radius2": {"field": "r0"},
    "color": {"field": "cls", "type": "nominal", "scale": {"domain": ["c1", "c2", "c3", "c4", "c5", "c6"], "range": ["#29307e", "#3a60b0", "#71cdc0", "#e0e43e", "#f05222", "#7d1416"]}, "legend": null}}},
  {"data": {"name": "pct"}, "mark": {"type": "text", "font": "Liberation Sans", "fontSize": 19, "align": "center", "baseline": "middle", "color": "black"},
   "encoding": {"theta": {"field": "a", "type": "quantitative", "stack": null, "scale": {"domain": [0, 360], "range": [0, 6.28319]}}, "radius": {"field": "r", "type": "quantitative", "stack": null, "scale": {"domain": [0, 15], "range": [8, 248], "zero": false, "nice": false}}, "text": {"field": "t"}}},
  {"data": {"name": "ns"}, "mark": {"type": "text", "font": "Liberation Sans", "fontSize": 17.5, "align": "left", "baseline": "middle", "dx": 2, "color": "black"},
   "encoding": {"theta": {"field": "a", "type": "quantitative", "stack": null, "scale": {"domain": [0, 360], "range": [0, 6.28319]}}, "radius": {"field": "r", "type": "quantitative", "stack": null, "scale": {"domain": [0, 15], "range": [8, 248], "zero": false, "nice": false}}, "text": {"field": "t"}}},
  {"data": {"name": "wl"}, "mark": {"type": "text", "font": "Liberation Sans", "fontSize": 17.5, "align": "left", "baseline": "middle", "dy": 10, "color": "black"},
   "encoding": {"theta": {"field": "a", "type": "quantitative", "stack": null, "scale": {"domain": [0, 360], "range": [0, 6.28319]}}, "radius": {"field": "r", "type": "quantitative", "stack": null, "scale": {"domain": [0, 15], "range": [8, 248], "zero": false, "nice": false}}, "text": {"field": "t"}}},
  {"data": {"name": "el"}, "mark": {"type": "text", "font": "Liberation Sans", "fontSize": 17.5, "align": "right", "baseline": "middle", "dy": 10, "color": "black"},
   "encoding": {"theta": {"field": "a", "type": "quantitative", "stack": null, "scale": {"domain": [0, 360], "range": [0, 6.28319]}}, "radius": {"field": "r", "type": "quantitative", "stack": null, "scale": {"domain": [0, 15], "range": [8, 248], "zero": false, "nice": false}}, "text": {"field": "t"}}}
 ]},
{"title": "(1.f)", "width": 595, "height": 540, "resolve": {"scale": {"theta": "independent"}},
 "encoding": {"x": {"datum": 0, "type": "quantitative", "scale": {"domain": [-17.903, 18.085], "nice": false, "zero": false}, "axis": null}, "y": {"datum": 0, "type": "quantitative", "scale": {"domain": [-16.167, 16.494], "nice": false, "zero": false}, "axis": null}},
 "layer": [
  {"data": {"name": "rings"}, "transform": [{"filter": "datum.ring == 5"}], "mark": {"type": "arc", "theta": 0, "theta2": 6.2832, "fill": "transparent", "stroke": "black", "strokeWidth": 0.9, "strokeDash": [14, 13.646], "strokeDashOffset": 7},
   "encoding": {"radius": {"field": "ring", "type": "quantitative", "stack": null, "scale": {"domain": [0, 15], "range": [8, 248], "zero": false, "nice": false}}}},
  {"data": {"name": "rings"}, "transform": [{"filter": "datum.ring == 10"}], "mark": {"type": "arc", "theta": 0, "theta2": 6.2832, "fill": "transparent", "stroke": "black", "strokeWidth": 0.9, "strokeDash": [13.5, 12.889], "strokeDashOffset": 6.75},
   "encoding": {"radius": {"field": "ring", "type": "quantitative", "stack": null, "scale": {"domain": [0, 15], "range": [8, 248], "zero": false, "nice": false}}}},
  {"data": {"name": "rings"}, "transform": [{"filter": "datum.ring == 15"}], "mark": {"type": "arc", "theta": 0, "theta2": 6.2832, "fill": "transparent", "stroke": "black", "strokeWidth": 0.9, "strokeDash": [14, 13.826], "strokeDashOffset": 7},
   "encoding": {"radius": {"field": "ring", "type": "quantitative", "stack": null, "scale": {"domain": [0, 15], "range": [8, 248], "zero": false, "nice": false}}}},
  {"data": {"name": "cross"}, "mark": {"type": "rule", "color": "black", "strokeWidth": 0.9, "strokeDash": [18, 12]},
   "encoding": {"x": {"field": "x1", "type": "quantitative", "scale": {"domain": [-17.903, 18.085], "nice": false, "zero": false}, "axis": null}, "x2": {"field": "x2"},
    "y": {"field": "y1", "type": "quantitative", "scale": {"domain": [-16.167, 16.494], "nice": false, "zero": false}, "axis": null}, "y2": {"field": "y2"}}},
  {"data": {"name": "hole"}, "mark": {"type": "arc", "theta": 0, "theta2": 6.2832, "fill": "white", "strokeWidth": 0},
   "encoding": {"radius": {"field": "h", "type": "quantitative", "stack": null, "scale": {"domain": [0, 15], "range": [8, 248], "zero": false, "nice": false}}}},
  {"data": {"name": "rose"}, "transform": [{"filter": "datum.p == 'f'"}, {"fold": ["c1", "c2", "c3", "c4", "c5", "c6"], "as": ["cls", "v"]}, {"filter": "datum.v > 0"}, {"stack": "v", "groupby": ["d"], "sort": [{"field": "cls", "order": "ascending"}], "as": ["r0", "r1"]}],
   "mark": {"type": "arc", "stroke": "black", "strokeWidth": 0.8},
   "encoding": {"theta": {"field": "d", "type": "ordinal", "scale": {"type": "band", "domain": [0,10,20,30,40,50,60,70,80,90,100,110,120,130,140,150,160,170,180,190,200,210,220,230,240,250,260,270,280,290,300,310,320,330,340,350], "range": [-0.08727, 6.19592], "paddingInner": 0, "paddingOuter": 0}},
    "radius": {"field": "r1", "type": "quantitative", "stack": null, "scale": {"domain": [0, 15], "range": [8, 248], "zero": false, "nice": false}}, "radius2": {"field": "r0"},
    "color": {"field": "cls", "type": "nominal", "scale": {"domain": ["c1", "c2", "c3", "c4", "c5", "c6"], "range": ["#29307e", "#3a60b0", "#71cdc0", "#e0e43e", "#f05222", "#7d1416"]}, "legend": null}}},
  {"data": {"name": "pct"}, "mark": {"type": "text", "font": "Liberation Sans", "fontSize": 19, "align": "center", "baseline": "middle", "color": "black"},
   "encoding": {"theta": {"field": "a", "type": "quantitative", "stack": null, "scale": {"domain": [0, 360], "range": [0, 6.28319]}}, "radius": {"field": "r", "type": "quantitative", "stack": null, "scale": {"domain": [0, 15], "range": [8, 248], "zero": false, "nice": false}}, "text": {"field": "t"}}},
  {"data": {"name": "ns"}, "mark": {"type": "text", "font": "Liberation Sans", "fontSize": 17.5, "align": "left", "baseline": "middle", "dx": 2, "color": "black"},
   "encoding": {"theta": {"field": "a", "type": "quantitative", "stack": null, "scale": {"domain": [0, 360], "range": [0, 6.28319]}}, "radius": {"field": "r", "type": "quantitative", "stack": null, "scale": {"domain": [0, 15], "range": [8, 248], "zero": false, "nice": false}}, "text": {"field": "t"}}},
  {"data": {"name": "wl"}, "mark": {"type": "text", "font": "Liberation Sans", "fontSize": 17.5, "align": "left", "baseline": "middle", "dy": 10, "color": "black"},
   "encoding": {"theta": {"field": "a", "type": "quantitative", "stack": null, "scale": {"domain": [0, 360], "range": [0, 6.28319]}}, "radius": {"field": "r", "type": "quantitative", "stack": null, "scale": {"domain": [0, 15], "range": [8, 248], "zero": false, "nice": false}}, "text": {"field": "t"}}},
  {"data": {"name": "el"}, "mark": {"type": "text", "font": "Liberation Sans", "fontSize": 17.5, "align": "right", "baseline": "middle", "dy": 10, "color": "black"},
   "encoding": {"theta": {"field": "a", "type": "quantitative", "stack": null, "scale": {"domain": [0, 360], "range": [0, 6.28319]}}, "radius": {"field": "r", "type": "quantitative", "stack": null, "scale": {"domain": [0, 15], "range": [8, 248], "zero": false, "nice": false}}, "text": {"field": "t"}}}
 ]}
], "spacing": 48}
],
"spacing": 17
}
